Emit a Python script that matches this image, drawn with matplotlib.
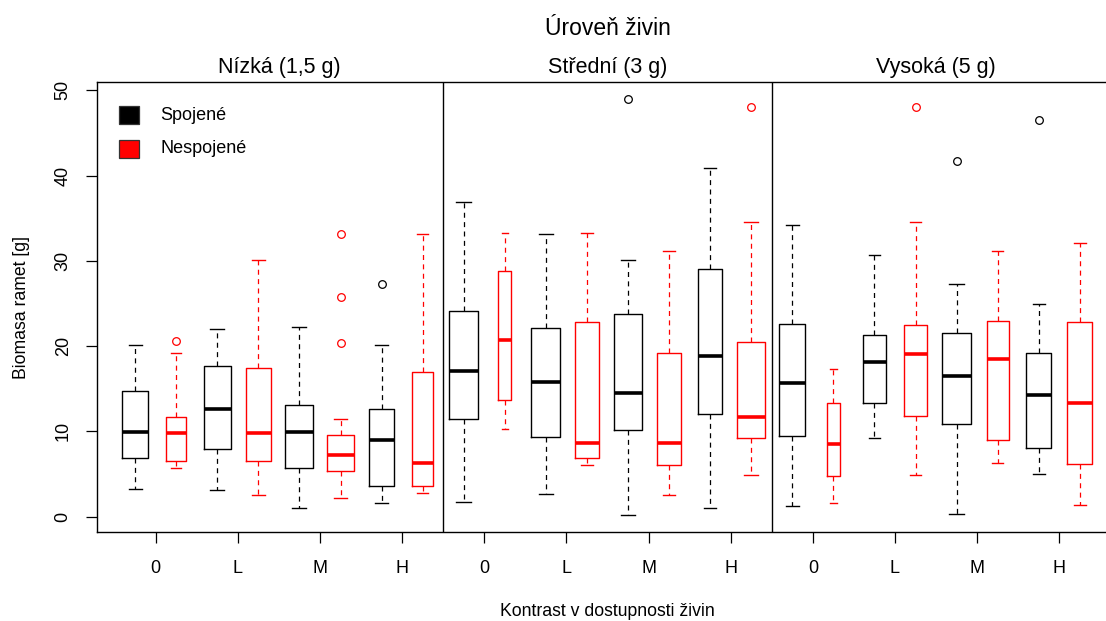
import matplotlib
matplotlib.use('Agg')
import matplotlib.pyplot as plt
from matplotlib.patches import Rectangle
from matplotlib.transforms import blended_transform_factory

plt.rcParams['font.family'] = ['Liberation Sans', 'DejaVu Sans']

# ---------------- data ----------------
nutrient_levels = ["Nízká (1,5 g)", "Střední (3 g)", "Vysoká (5 g)"]
contrasts = ["0", "L", "M", "H"]
series = ["Spojené", "Nespojené"]
series_colors = ["black", "red"]

# 24 boxes: for each nutrient level, for each contrast: Spojené, Nespojené
whislo = [3.28, 5.71, 3.13, 2.58, 0.98, 2.19, 1.64, 2.74,
          1.76, 10.28, 2.70, 6.10, 0.20, 2.58, 0.98, 4.89,
          1.25, 1.64, 9.23, 4.89, 0.32, 6.26, 5.04, 1.41]
q1 = [6.92, 6.53, 7.90, 6.53, 5.71, 5.32, 3.56, 3.56,
      11.49, 13.64, 9.34, 6.92, 10.16, 6.10, 12.04, 9.23,
      9.46, 4.77, 13.29, 11.77, 10.87, 8.95, 8.02, 6.14]
med = [9.93, 9.77, 12.59, 9.77, 9.93, 7.19, 8.99, 6.26,
       17.04, 20.68, 15.83, 8.68, 14.46, 8.68, 18.80, 11.65,
       15.71, 8.56, 18.14, 19.07, 16.53, 18.52, 14.23, 13.29]
q3 = [14.70, 11.65, 17.63, 17.47, 13.13, 9.62, 12.59, 16.93,
      24.08, 28.80, 22.16, 22.86, 23.76, 19.19, 29.04, 20.52,
      22.55, 13.29, 21.34, 22.44, 21.50, 22.98, 19.19, 22.83]
whishi = [20.10, 19.20, 22.04, 30.10, 22.28, 11.49, 20.10, 33.20,
          36.90, 33.26, 33.10, 33.26, 30.13, 31.19, 40.88, 34.58,
          34.20, 17.28, 30.68, 34.58, 27.28, 31.19, 24.97, 32.12]
fliers = [[], [20.56], [], [], [], [33.2, 25.8, 20.4], [27.3], [],
          [], [], [], [], [48.93], [], [], [48.07],
          [], [], [], [48.07], [41.74], [], [46.47], []]
# relative box widths (varwidth, ~sqrt of group size)
box_widths = [0.63, 0.48, 0.67, 0.62, 0.68, 0.65, 0.60, 0.51,
              0.71, 0.32, 0.71, 0.60, 0.68, 0.59, 0.60, 0.68,
              0.63, 0.32, 0.54, 0.57, 0.71, 0.54, 0.60, 0.60]

yticks = [0, 10, 20, 30, 40, 50]

# ---------------- figure ----------------
W, H = 1106, 621
fig = plt.figure(figsize=(W / 100, H / 100), dpi=100)

def fx(px):
    return px / W

def fy(py):
    return 1 - py / H

ax_left, ax_right = fx(96.7), fx(1128)
ax_bottom, ax_top = fy(532.3), fy(82.3)
ax = fig.add_axes([ax_left, ax_bottom, ax_right - ax_left, ax_top - ax_bottom])

n = len(med)
for i in range(n):
    c = series_colors[i % len(series)]
    st = dict(med=med[i], q1=q1[i], q3=q3[i], whislo=whislo[i],
              whishi=whishi[i], fliers=fliers[i])
    ax.bxp([st], positions=[i + 1], widths=[box_widths[i]],
           capwidths=[box_widths[i] / 2],
           boxprops=dict(color=c, lw=1.0),
           medianprops=dict(color=c, lw=2.6, solid_capstyle='butt'),
           whiskerprops=dict(color=c, lw=0.9, linestyle=(0, (4, 3.5))),
           capprops=dict(color=c, lw=1.0),
           flierprops=dict(marker='o', markerfacecolor='none',
                           markeredgecolor=c, markersize=5.5,
                           markeredgewidth=0.9),
           manage_ticks=False)

per_level = len(contrasts) * len(series)
for k in range(1, len(nutrient_levels)):
    ax.axvline(k * per_level + 0.5, color='black', lw=1.0)

ax.set_xlim(0.0634, 25.174)
ax.set_ylim(-1.83, 50.93)

tick_pos = [1.5 + 2 * k for k in range(len(contrasts) * len(nutrient_levels))]
ax.set_xticks(tick_pos)
ax.set_xticklabels(contrasts * len(nutrient_levels), fontsize=13)
ax.set_yticks(yticks)
ax.set_yticklabels([str(v) for v in yticks], fontsize=13, rotation=90, va='center')
ax.tick_params(axis='x', length=8, width=0.9, pad=12)
ax.tick_params(axis='y', length=8, width=0.9, pad=10)
for s in ['left', 'top', 'bottom']:
    ax.spines[s].set_linewidth(1.0)
ax.spines['right'].set_visible(False)

# titles
bt = blended_transform_factory(ax.transData, fig.transFigure)
fig.text(12.5, fy(35), "Úroveň živin", transform=bt, ha='center',
         va='baseline', fontsize=16.5)
for k, name in enumerate(nutrient_levels):
    fig.text(k * per_level + (per_level + 1) / 2, fy(72.7), name, transform=bt,
             ha='center', va='baseline', fontsize=15.5)

fig.text(12.5, fy(616), "Kontrast v dostupnosti živin", transform=bt,
         ha='center', va='baseline', fontsize=12.7)
fig.text(fx(22), (ax_bottom + ax_top) / 2, "Biomasa ramet [g]", rotation=90,
         ha='center', va='center', fontsize=12.7)

# legend
for j, (name, c) in enumerate(zip(series, series_colors)):
    cy = [115.2, 148.5][j]
    fig.add_artist(Rectangle((fx(119.3), fy(cy + 9)), fx(138.5) - fx(119.3),
                             fy(cy - 9) - fy(cy + 9), transform=fig.transFigure,
                             facecolor=c, edgecolor='#333333', lw=0.9))
    fig.text(fx(160), fy(cy), name, ha='left', va='center', fontsize=13)

fig.savefig('out.png', dpi=100)
